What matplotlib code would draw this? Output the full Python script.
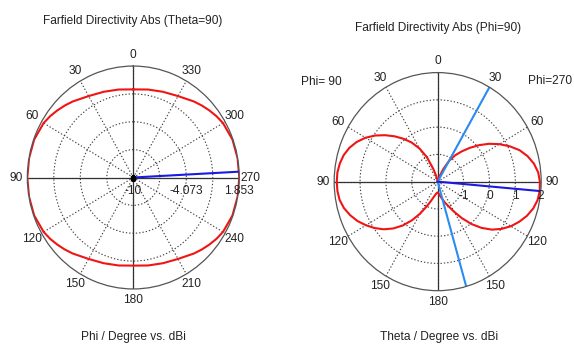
import matplotlib.pyplot as plt
import numpy as np

plt.rcParams['font.family'] = ['Liberation Sans', 'DejaVu Sans']

# left chart: cut at Theta=90, angle Phi (counter-clockwise from top), dBi
phi_angle = [0, 10, 20, 30, 40, 45, 50, 55, 60, 70, 80, 90,
             100, 110, 120, 125, 130, 135, 140, 150, 160, 170, 180,
             190, 200, 210, 220, 225, 230, 235, 240, 250, 260, 270,
             280, 290, 300, 305, 310, 315, 320, 330, 340, 350, 360]
phi_dbi = [-0.63, -0.5, -0.3, 0.0, 0.55, 0.83, 1.1, 1.36, 1.58, 1.8, 1.84, 1.853,
           1.84, 1.8, 1.58, 1.36, 1.1, 0.83, 0.55, 0.0, -0.3, -0.5, -0.63,
           -0.5, -0.3, 0.0, 0.55, 0.83, 1.1, 1.36, 1.58, 1.8, 1.84, 1.853,
           1.84, 1.8, 1.58, 1.36, 1.1, 0.83, 0.55, 0.0, -0.3, -0.5, -0.63]
phi_main_lobe = 273
phi_rings = [-10, -7.037, -4.073, -1.11, 1.853]
phi_ring_labels = ['-10', '-4.073', '1.853']
phi_ring_label_vals = [-10, -4.073, 1.853]
phi_tick_labels = ['0', '30', '60', '90', '120', '150', '180',
                   '210', '240', '270', '300', '330']

# right chart: cut at Phi=90, theta on the Phi=90 side (left) and Phi=270 side (right)
theta_left = [0, 5, 10, 15, 20, 25, 30, 35, 40, 45, 50, 55, 60, 65, 70, 75, 80, 85, 90,
              95, 100, 105, 110, 115, 120, 125, 130, 135, 140, 145, 150, 155, 160, 165, 170, 175, 180]
dbi_left = [-2.0, -2.0, -1.95, -1.8, -1.5, -1.0, -0.6, -0.25, 0.05, 0.35, 0.65, 0.95, 1.22,
            1.45, 1.63, 1.76, 1.84, 1.89, 1.9,
            1.89, 1.85, 1.75, 1.6, 1.42, 1.2, 0.97, 0.72, 0.43, 0.1, -0.27, -0.65, -1.0,
            -1.25, -1.42, -1.52, -1.58, -1.6]
theta_right = [0, 5, 10, 15, 20, 25, 30, 35, 40, 45, 50, 55, 60, 65, 70, 75, 80, 85, 90,
               95, 100, 105, 110, 115, 120, 125, 130, 135, 140, 145, 150, 155, 160, 165, 170, 175, 180]
dbi_right = [-2.0, -2.0, -2.0, -1.95, -1.8, -1.5, -1.12, -0.82, -0.55, -0.25, 0.08, 0.42, 0.75,
             1.07, 1.37, 1.6, 1.78, 1.9, 1.95,
             1.96, 1.92, 1.82, 1.67, 1.48, 1.27, 1.02, 0.74, 0.4, 0.03, -0.36, -0.72, -1.0,
             -1.18, -1.35, -1.47, -1.56, -1.6]
theta_main_lobe = 95
theta_3db = [30, 164]
theta_rings = [-2, -1, 0, 1, 2]
theta_ring_labels = ['-1', '0', '1', '2']
theta_ring_label_vals = [-1, 0, 1, 2]
theta_tick_labels = ['0', '30', '60', '90', '120', '150', '180',
                     '150', '120', '90', '60', '30']

fs = 8.6
txt_col = '#222222'
red = '#f01414'
blue = '#1a1ae0'
light_blue = '#2a8cf0'


def setup(ax, rings, tick_labels):
    ax.set_theta_zero_location('N')
    ax.set_theta_direction(1)
    ax.set_ylim(rings[0], rings[-1])
    ax.set_aspect('auto')
    ax.set_yticks(rings[1:-1])
    ax.set_yticklabels([])
    ax.set_xticks(np.deg2rad(np.arange(0, 360, 30)))
    ax.set_xticklabels(tick_labels, fontsize=fs, color=txt_col)
    ax.tick_params(axis='x', pad=-2.5)
    ax.grid(True, color='#404040', linestyle=(0, (1.2, 1.8)), lw=0.8)
    ax.spines['polar'].set_color('#555555')
    ax.spines['polar'].set_linewidth(0.9)
    for a in [0, 90, 180, 270]:
        ax.plot([np.deg2rad(a)] * 2, [rings[0], rings[-1]], color='#333333', lw=0.9)


fig = plt.figure(figsize=(5.74, 3.44), dpi=100)

ax1 = fig.add_axes([0.0476, 0.160, 0.3693, 0.648], projection='polar')
setup(ax1, phi_rings, phi_tick_labels)
ax1.plot(np.deg2rad(phi_angle), phi_dbi, color=red, lw=1.5)
ax1.plot([np.deg2rad(phi_main_lobe)] * 2, [phi_rings[0], phi_rings[-1]], color=blue, lw=1.5)
ax1.plot([0], [phi_rings[0]], marker='s', ms=3, color='black')
for lab, v in zip(phi_ring_labels, phi_ring_label_vals):
    ax1.annotate(lab, xy=(np.deg2rad(270), v), xytext=(0, -10), textcoords='offset points',
                 ha='center', va='center', fontsize=fs, color=txt_col)
fig.text(0.232, 0.94, 'Farfield Directivity Abs (Theta=90)', ha='center', va='center',
         fontsize=fs, color=txt_col)
fig.text(0.232, 0.02, 'Phi / Degree vs. dBi', ha='center', va='center',
         fontsize=fs, color=txt_col)

ax2 = fig.add_axes([0.5822, 0.155, 0.3606, 0.634], projection='polar')
setup(ax2, theta_rings, theta_tick_labels)
ang = list(theta_left) + [360 - t for t in theta_right[::-1]]
val = list(dbi_left) + list(dbi_right[::-1])
ax2.plot(np.deg2rad(ang), val, color=red, lw=1.5)
for t in theta_3db:
    ax2.plot([np.deg2rad(360 - t)] * 2, [theta_rings[0], theta_rings[-1]], color=light_blue, lw=1.5)
ax2.plot([np.deg2rad(360 - theta_main_lobe)] * 2, [theta_rings[0], theta_rings[-1]], color=blue, lw=1.5)
for lab, v in zip(theta_ring_labels, theta_ring_label_vals):
    ax2.annotate(lab, xy=(np.deg2rad(270), v), xytext=(0, -10), textcoords='offset points',
                 ha='center', va='center', fontsize=fs, color=txt_col)
fig.text(0.763, 0.919, 'Farfield Directivity Abs (Phi=90)', ha='center', va='center',
         fontsize=fs, color=txt_col)
fig.text(0.765, 0.02, 'Theta / Degree vs. dBi', ha='center', va='center',
         fontsize=fs, color=txt_col)
fig.text(0.56, 0.762, 'Phi= 90', ha='center', va='center', fontsize=fs, color=txt_col)
fig.text(0.997, 0.765, 'Phi=270', ha='right', va='center', fontsize=fs, color=txt_col)

fig.savefig('out.png', dpi=100)
